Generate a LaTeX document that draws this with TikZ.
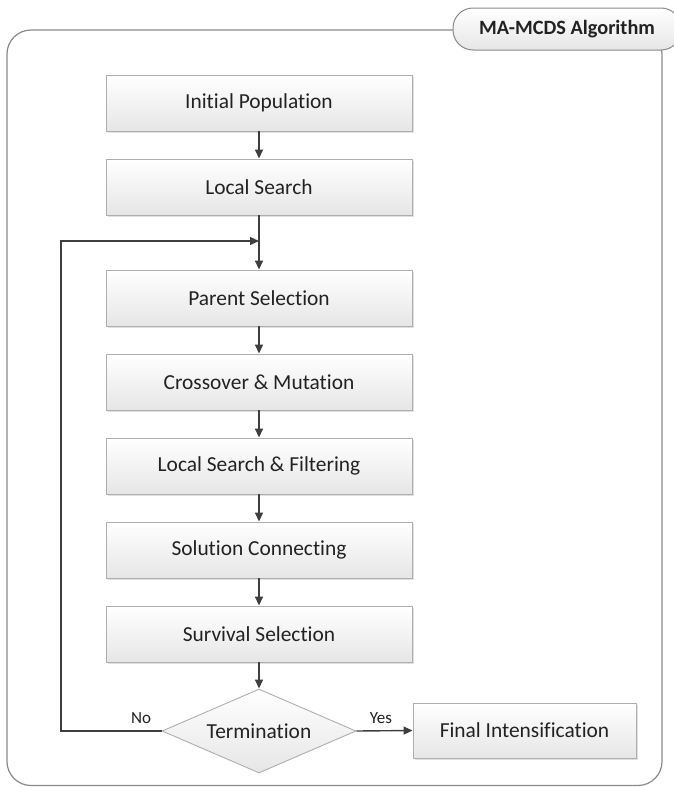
\documentclass[tikz,border=0pt]{standalone}
\usepackage{fontspec}
\setmainfont[Ligatures=NoCommon]{Carlito}
\usetikzlibrary{shapes.geometric,arrows.meta,shadows}
\definecolor{boxborder}{HTML}{AEAEAE}
\definecolor{boxbot}{HTML}{E6E6E6}
\definecolor{txt}{HTML}{222222}
\definecolor{arr}{HTML}{3F3F3F}
\definecolor{framec}{HTML}{8A8A8A}
\begin{document}
\begin{tikzpicture}[x=1pt,y=-1pt,
  boxbase/.style={draw=boxborder, line width=0.9pt, top color=white, bottom color=boxbot,
    inner sep=0pt, font=\fontsize{21.4}{24}\selectfont, text=txt,
    drop shadow={shadow xshift=1.5pt, shadow yshift=-1.5pt, fill=black!30, opacity=.4}},
  stepbox/.style={boxbase, minimum width=306pt, minimum height=56pt},
  endbox/.style={boxbase, minimum width=223pt, minimum height=55pt},
  decide/.style={diamond, aspect=2.31, draw=boxborder, line width=0.9pt, top color=white, bottom color=boxbot,
    inner sep=0pt, minimum width=194pt, minimum height=84pt, font=\fontsize{21.4}{24}\selectfont, text=txt},
  flow/.style={draw=arr, line width=1.4pt, -{Triangle[length=9pt,width=8pt]}},
  lbl/.style={font=\fontsize{17}{20}\selectfont, text=txt, inner sep=0pt}
]
\useasboundingbox (0,0) rectangle (674,787);
% outer frame
\draw[framec, line width=1.2pt, rounded corners=24pt] (7,30) rectangle (662,785.5);
% tab
\node[draw=framec, line width=1pt, top color=white, bottom color=boxbot, rounded corners=20pt,
  minimum width=228pt, minimum height=42pt, inner sep=0pt,
  font=\bfseries\fontsize{20.3}{24}\selectfont, text=txt] (tab) at (567,29) {MA-MCDS Algorithm};

\node[stepbox] (ip) at (259,103) {Initial Population};
\node[stepbox] (ls) at (259,187) {Local Search};
\node[stepbox] (ps) at (259,298) {Parent Selection};
\node[stepbox] (cm) at (259,382) {Crossover \& Mutation};
\node[stepbox] (lsf) at (259,466) {Local Search \& Filtering};
\node[stepbox] (sc) at (259,550) {Solution Connecting};
\node[stepbox] (ss) at (259,634) {Survival Selection};
\node[decide] (term) at (259,731) {Termination};
\node[endbox] (fi) at (524.5,730.5) {Final Intensification};

\coordinate (join) at (259,241);
\coordinate (lc) at (61,241);
\coordinate (lb) at (61,731);

\draw[flow] (ip) -- (ls);
\draw[flow] (ls) -- (ps);
\draw[flow] (ps) -- (cm);
\draw[flow] (cm) -- (lsf);
\draw[flow] (lsf) -- (sc);
\draw[flow] (sc) -- (ss);
\draw[flow] (ss) -- (term);
\draw[flow] (term.west) -- (lb) -- (lc) -- (join);
\draw[flow] (term.east) -- (fi.west);

\node[lbl] (no) at (141,718) {No};
\node[lbl] (yes) at (381,718) {Yes};
\end{tikzpicture}
\end{document}
